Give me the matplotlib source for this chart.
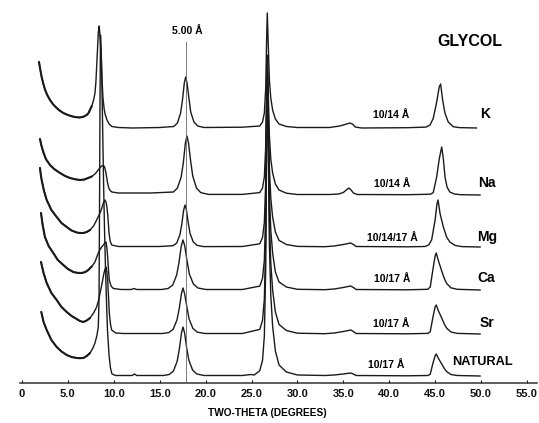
import matplotlib
matplotlib.use('Agg')
import matplotlib.pyplot as plt

plt.rcParams['font.family'] = ['Liberation Sans', 'DejaVu Sans']

# ---- data: (two-theta [deg], intensity above the trace's own baseline) ----
trace_k = [(1.85,66),(2.0,58),(2.14,51),(2.3,45),(2.5,38.5),(2.75,33),(3.05,28),(3.4,23.5),(3.78,20),(4.1,17.5),
           (4.5,15),(5.0,13),(5.6,11.3),(6.0,10.7),(6.3,10.5),(6.7,11.3),(7.05,13),(7.25,15),(7.4,18),(7.6,22),
           (7.8,28),(7.95,35),(8.05,46),(8.13,61),(8.22,78),(8.31,95),(8.39,102),(8.45,98),(8.5,90),(8.6,76),
           (8.7,52),(8.82,30),(8.95,19),(9.05,14),(9.26,8),(9.5,4),(9.8,1.5),(10.5,0.5),(12.0,0),(15.0,0.5),
           (16.53,1.5),(16.93,5),(17.28,15),(17.48,28),(17.68,45),(17.83,51),(17.98,45),(18.18,30),(18.38,16),
           (18.73,6),(19.13,2),(19.83,0.5),(24.0,0.8),(25.9,2),(26.2,6),(26.4,15),(26.55,40),(26.65,90),
           (26.72,115),(26.82,85),(26.95,48),(27.1,30),(27.3,18),(27.6,9),(28.0,4),(28.8,1.5),(30.0,0.5),
           (33.5,0.5),(34.6,2),(35.2,3.5),(35.7,5),(36.0,4),(36.3,1),(37.0,0),(42.0,0.3),(44.0,0.9),(44.45,3),
           (44.8,9.7),(45.15,25),(45.45,41),(45.6,44),(45.82,28),(46.07,15),(46.43,6),(46.98,1.3),(47.6,0.4),
           (49.5,0)]
trace_na = [(1.96,56),(2.1,50),(2.32,43),(2.6,36),(3.05,30),(3.5,26),(4.14,22),(4.7,19),(5.23,17),(5.8,15.7),
            (6.32,15),(6.8,15.5),(7.2,17),(7.6,18.5),(7.95,21),(8.3,25),(8.5,27.5),(8.68,29),(8.88,29.5),
            (9.0,28),(9.1,24),(9.2,19),(9.3,13),(9.4,9),(9.5,6),(9.65,4),(9.8,3),(10.5,2),(14.0,2),(16.5,3),
            (16.93,7),(17.34,18),(17.57,32),(17.8,52),(17.97,59),(18.14,52),(18.37,34),(18.6,19),(19.0,7),
            (19.47,2.4),(20.3,0.6),(24.0,0.6),(25.9,2.4),(26.2,7),(26.4,18),(26.55,49),(26.65,109),(26.72,140),
            (26.82,104),(26.95,59),(27.1,36),(27.3,22),(27.6,11),(28.0,5),(28.8,1.8),(30.0,0.5),(33.5,0.5),
            (34.5,1),(35.0,2.5),(35.4,5.5),(35.6,7),(35.85,5),(36.1,2),(36.5,0.5),(42.0,0.3),(44.5,0.8),
            (44.8,2.5),(45.17,18),(45.45,36),(45.72,48),(45.9,36),(46.08,18),(46.3,8),(46.6,3),(47.1,1),
            (47.8,0.3),(49.9,0)]
trace_mg = [(1.96,79),(2.05,72),(2.14,67),(2.4,56),(2.69,47),(3.2,37),(3.78,30),(4.3,24),(4.87,20),(5.4,16.5),
            (5.96,14.5),(6.3,14),(6.68,14),(7.05,15),(7.41,17),(7.8,21),(8.13,27),(8.5,34),(8.7,39),(8.86,44),
            (9.04,47),(9.15,45),(9.25,40),(9.35,31),(9.42,22),(9.48,14),(9.6,6),(9.77,2),(10.5,0.5),(15.0,0.5),
            (16.46,1.3),(16.86,4),(17.21,12.6),(17.41,23),(17.61,37),(17.76,42),(17.91,37),(18.11,24),
            (18.31,13.4),(18.66,5),(19.06,1.7),(19.76,0.4),(24.0,0.5),(25.9,3.2),(26.2,9.5),(26.4,24.6),
            (26.55,66),(26.65,147),(26.72,189),(26.82,140),(26.95,79),(27.1,49),(27.3,30),(27.6,15),(28.0,6.6),
            (28.8,2.5),(30.0,0.6),(33.0,0.3),(34.0,1),(35.0,2.5),(35.8,4),(36.1,2.5),(36.4,0.5),(42.0,0.2),
            (43.9,0.5),(44.3,2),(44.62,7),(45.0,27),(45.2,43),(45.32,47),(45.55,33),(45.9,20),(46.25,10),
            (46.6,5),(47.2,1.5),(47.9,0.4),(49.9,0)]
trace_ca = [(2.07,77),(2.25,65),(2.5,53),(2.9,44),(3.41,37),(3.9,30),(4.5,25),(5.0,21),(5.59,18),(6.0,17.2),
            (6.5,17),(6.9,18),(7.22,20),(7.6,23.5),(7.95,28),(8.31,37),(8.5,40.5),(8.68,43),(8.95,46),
            (9.05,47.5),(9.15,48),(9.25,42),(9.33,33),(9.42,20),(9.51,10),(9.7,4),(9.95,1.5),(10.8,0.5),
            (11.9,0.5),(12.2,1.5),(12.5,0.5),(15.2,0.5),(15.92,1.5),(16.42,5),(16.85,15),(17.1,27.5),(17.35,44),
            (17.54,50),(17.73,44),(17.98,29),(18.23,16),(18.67,6),(19.17,2),(20.04,0.5),(24.0,0.5),(25.9,3.9),
            (26.2,11.5),(26.4,30),(26.55,80),(26.65,179),(26.72,230),(26.82,170),(26.95,97),(27.1,60),(27.3,37),
            (27.6,18),(28.0,8),(28.8,3),(30.0,0.7),(33.0,0.3),(34.0,1),(35.0,2.5),(35.8,4),(36.1,2.5),
            (36.4,0.5),(42.0,0.2),(44.2,0.7),(44.47,3),(44.77,21),(45.0,34),(45.12,37),(45.37,29),(45.72,19),
            (46.02,11),(46.27,6.5),(46.72,2.2),(47.42,0.7),(49.9,0)]
trace_sr = [(2.07,72),(2.35,61),(2.69,51),(3.2,41),(3.78,34),(4.3,27),(4.87,22),(5.4,18),(5.96,15),(6.3,13),
            (6.68,12),(7.05,13.5),(7.41,16),(7.8,21),(8.13,27),(8.35,34),(8.57,44),(8.75,52),(8.93,61),
            (9.05,65),(9.15,67),(9.25,62),(9.33,54),(9.42,38),(9.51,21),(9.65,9),(9.77,4),(10.2,1),(11.0,0.5),
            (15.3,0.5),(15.98,1.4),(16.46,4.6),(16.88,14),(17.12,25),(17.36,40),(17.54,46),(17.72,40),(17.96,27),
            (18.2,15),(18.62,5.5),(19.1,1.8),(19.94,0.5),(24.0,0.5),(25.9,4.6),(26.2,13.6),(26.4,35),(26.55,95),
            (26.65,212),(26.72,272),(26.82,201),(26.95,114),(27.1,71),(27.3,44),(27.6,22),(28.0,9.5),(28.8,3.5),
            (30.0,0.8),(33.0,0.3),(34.0,1),(35.0,2.5),(35.8,4),(36.1,2.5),(36.4,0.5),(42.0,0.2),(44.22,0.6),
            (44.47,2.3),(44.77,17),(45.0,27),(45.12,29),(45.37,23),(45.72,16),(46.02,9.6),(46.27,5.8),
            (46.72,2),(47.42,0.6),(49.9,0)]
trace_nat = [(2.1,64),(2.35,54),(2.69,46),(3.2,36),(3.78,29),(4.3,24.5),(4.87,21),(5.4,19),(5.96,18),(6.3,17.8),
             (6.68,18),(7.05,20),(7.41,23),(7.7,27.5),(7.95,33),(8.15,40),(8.31,49),(8.39,76),(8.45,176),
             (8.5,276),(8.55,341),(8.66,316),(8.77,256),(8.88,196),(8.99,146),(9.1,106),(9.2,76),(9.31,46),
             (9.48,21),(9.64,8),(9.8,2),(10.2,0.5),(12.0,0.5),(12.25,2),(12.5,0.5),(15.4,0.5),(16.04,1.5),
             (16.5,5),(16.91,15),(17.14,27),(17.37,43),(17.54,49),(17.71,43),(17.94,28),(18.17,16),(18.58,6),
             (19.04,2),(19.84,0.5),(24.0,0.5),(24.9,1.5),(25.3,1),(25.9,5.3),(26.2,15.6),(26.4,40),(26.55,109),
             (26.65,243),(26.72,311),(26.82,230),(26.95,131),(27.1,81),(27.3,50),(27.6,25),(28.0,11),(28.8,4),
             (30.0,1),(33.0,0.5),(34.0,1),(35.0,2),(35.8,3),(36.1,2),(36.4,0.5),(42.0,0.2),(44.22,0.5),
             (44.47,1.8),(44.77,13),(45.0,20),(45.12,22),(45.37,17.5),(45.72,12),(46.02,7.3),(46.27,4.4),
             (46.72,1.5),(47.42,0.5),(49.9,0)]

traces = [trace_k, trace_na, trace_mg, trace_ca, trace_sr, trace_nat]
trace_names = ['K', 'Na', 'Mg', 'Ca', 'Sr', 'NATURAL']
trace_offsets = [255, 188, 136, 93, 49, 7]
spacing_labels = ['10/14 Å', '10/14 Å', '10/14/17 Å', '10/17 Å', '10/17 Å', '10/17 Å']
spacing_label_x = [40.2, 40.3, 40.3, 40.3, 40.2, 39.65]
name_label_x = [50.44, 50.6, 50.65, 50.54, 50.7, 50.16]
label_baselines = [265, 196, 142, 101, 56, 15]

xticks = [0, 5, 10, 15, 20, 25, 30, 35, 40, 45, 50, 55]
xtick_labels = ['0', '5.0', '10.0', '15.0', '20.0', '25.0', '30.0', '35.0', '40.0', '45.0', '50.0', '55.0']

ref_line_x = 17.86   # 5.00 Å
ref_line_top = 341

# ---- figure ----
fig = plt.figure(figsize=(5.39, 4.23), dpi=100)
ax = fig.add_axes([0, 40 / 423, 1, 383 / 423])
ax.set_xlim(-22 / 9.18, (539 - 22) / 9.18)
ax.set_ylim(0, 383)

line_color = '#1a1a1a'
for tr, off in zip(traces, trace_offsets):
    xs = [p[0] for p in tr]
    ys = [p[1] + off for p in tr]
    ax.plot(xs, ys, color=line_color, lw=1.0, solid_joinstyle='round')
    # heavier ink on the low-angle scatter tail, as in the scanned original
    lo = [p for p in tr if p[0] <= 7.6]
    ax.plot([p[0] for p in lo], [p[1] + off for p in lo], color=line_color, lw=1.5,
            solid_capstyle='round', solid_joinstyle='round')

ax.plot([ref_line_x, ref_line_x], [0, ref_line_top], color='#666666', lw=0.6)
ax.text(ref_line_x + 0.17, ref_line_top + 8, '5.00 Å', fontsize=7.5, fontweight='bold',
        ha='center', va='baseline')

for name, lab, lx, nx, yb in zip(trace_names, spacing_labels, spacing_label_x, name_label_x, label_baselines):
    ax.text(lx, yb, lab, fontsize=7.5, fontweight='bold', ha='center', va='baseline')
    if name == 'NATURAL':
        ax.text(nx, yb + 3, name, fontsize=9.2, fontweight='bold', ha='center', va='baseline')
    else:
        ax.text(nx, yb, name, fontsize=10, fontweight='bold', ha='center', va='baseline')

ax.text(48.75, 337, 'GLYCOL', fontsize=11.5, fontweight='bold', ha='center', va='baseline')

for s in ['top', 'right', 'left']:
    ax.spines[s].set_visible(False)
ax.spines['bottom'].set_bounds(-0.2, 56.1)
ax.spines['bottom'].set_linewidth(1.1)
ax.spines['bottom'].set_color('#333333')
ax.set_yticks([])
ax.set_xticks(xticks)
ax.set_xticklabels(xtick_labels, fontsize=8, fontweight='bold')
ax.tick_params(axis='x', direction='in', length=2.5, width=0.8, pad=4.5, colors='#111111')

fig.text(267 / 539, 1 - 413 / 423, 'TWO-THETA (DEGREES)', fontsize=7.3, fontweight='bold',
         ha='center', va='center')

fig.savefig('out.png', dpi=100)
